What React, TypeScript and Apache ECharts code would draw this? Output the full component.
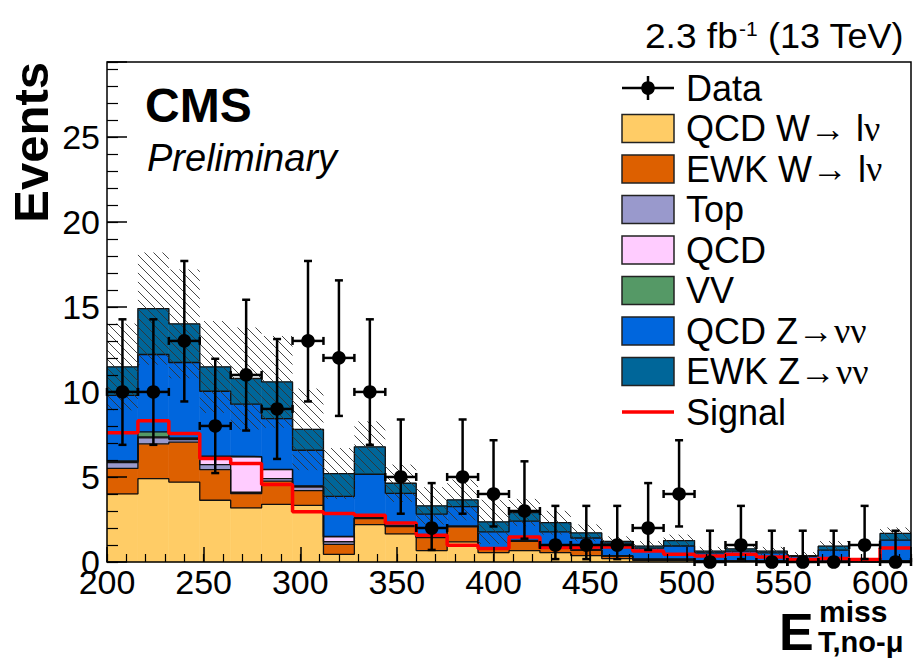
import React, { useEffect, useRef } from "react";
import * as echarts from "echarts";

// ---------- data ----------
const binEdges = [200, 216, 232, 248, 264, 280, 296, 312, 328, 344, 360, 376, 392, 408, 424, 440, 456, 472, 488, 504, 520, 536, 552, 568, 584, 600, 616];
const dataCounts = [10, 10, 13, 8, 11, 9, 13, 12, 10, 5, 2, 5, 4, 3, 1, 1, 1, 2, 4, 0, 1, 0, 0, 0, 1, 0];
const dataLow = [6.89, 6.89, 9.44, 5.23, 7.73, 6.06, 9.44, 8.59, 6.89, 2.84, 0.71, 2.84, 2.09, 1.37, 0.17, 0.17, 0.17, 0.71, 2.09, 0, 0.17, 0, 0, 0, 0.17, 0];
const dataHigh = [14.27, 14.27, 17.7, 11.95, 15.42, 13.11, 17.7, 16.56, 14.27, 8.38, 4.64, 8.38, 7.16, 5.92, 3.3, 3.3, 3.3, 4.64, 7.16, 1.84, 3.3, 1.84, 1.84, 1.84, 3.3, 1.84];

const qcdW = [4.0, 4.9, 4.7, 3.63, 3.18, 3.39, 3.33, 0.45, 2.2, 1.65, 0.67, 1.18, 0.55, 0.67, 0.55, 0.38, 0.2, 0.1, 0.1, 0.05, 0.05, 0.05, 0.02, 0.03, 0.01, 0.05];
const ewkW = [1.5, 2.05, 2.35, 1.8, 0.84, 1.37, 0.87, 0.59, 0.35, 0.43, 0.76, 0.88, 0.2, 0.54, 0.33, 0.31, 0.15, 0.05, 0.05, 0.02, 0.02, 0.02, 0.01, 0.01, 0, 0.02];
const topBkg = [0.35, 0.35, 0.15, 0.3, 0.08, 0.14, 0.2, 0.15, 0.03, 0.03, 0.03, 0.03, 0.05, 0.04, 0.03, 0.02, 0.01, 0.01, 0.01, 0.01, 0.01, 0.01, 0, 0.01, 0, 0.01];
const qcdBkg = [0.05, 0.05, 0.05, 0.45, 2.08, 0.53, 0.05, 0.3, 0.01, 0.01, 0.01, 0.01, 0.01, 0.01, 0.01, 0, 0, 0, 0, 0, 0, 0, 0, 0, 0, 0];
const vvBkg = [0.05, 0.3, 0.05, 0.05, 0.02, 0.02, 0.02, 0.01, 0.01, 0.01, 0.01, 0.01, 0.01, 0.01, 0.01, 0.01, 0.01, 0.01, 0.01, 0, 0, 0, 0, 0, 0, 0];
const qcdZ = [3.85, 4.55, 4.43, 3.81, 3.08, 2.98, 2.1, 2.36, 2.56, 1.91, 1.34, 1.15, 0.95, 1.13, 0.84, 0.69, 0.74, 0.64, 0.77, 0.46, 0.56, 0.46, 0.3, 0.65, 0.05, 1.21];
const ewkZ = [1.67, 2.7, 2.27, 1.43, 1.51, 2.16, 1.23, 1.34, 1.61, 0.59, 0.48, 0.39, 0.59, 0.51, 0.54, 0.3, 0.1, 0.12, 0.32, 0.1, 0.13, 0.1, 0.05, 0.23, 0.02, 0.39];
const signal = [7.6, 8.3, 7.55, 6.08, 5.79, 4.55, 2.95, 2.85, 2.75, 2.3, 1.58, 0.98, 0.8, 1.47, 0.85, 0.88, 0.88, 0.65, 0.45, 0.35, 0.45, 0.3, 0.15, 0.2, 0.15, 0.82];
const bkgUnc = [2.55, 3.3, 3.2, 2.7, 3.0, 2.7, 2.4, 1.5, 1.5, 1.1, 1.1, 1.2, 1.3, 0.8, 0.7, 0.5, 0.3, 0.3, 0.35, 0.25, 0.25, 0.25, 0.2, 0.3, 0.1, 0.35];

const componentNames = ["QCD W{s|→} l{s|ν}", "EWK W{s|→} l{s|ν}", "Top", "QCD", "VV", "QCD Z{s|→νν}", "EWK Z{s|→νν}"];
const componentColors = ["#FFCC66", "#DD6000", "#9999CC", "#FFCCFF", "#559966", "#0066DD", "#006699"];
const componentValues = [qcdW, ewkW, topBkg, qcdBkg, vvBkg, qcdZ, ewkZ];

const FONT = "'Liberation Sans', Arial, Helvetica, sans-serif";
const SERIF = "'Liberation Serif', 'DejaVu Serif', serif";

export default function App() {
  const ref = useRef<HTMLDivElement>(null);

  useEffect(() => {
    const chart = echarts.init(ref.current!, null, { renderer: "svg" });
    const nb = dataCounts.length;
    const xMin = binEdges[0];
    const xMax = binEdges[nb];

    const series: any[] = [];
    let base = new Array(nb).fill(0);
    const levels: number[][] = [];
    componentValues.forEach((vals, k) => {
      const tops = base.map((b, i) => b + vals[i]);
      const color = componentColors[k];
      series.push({
        type: "custom",
        silent: true,
        z: 2,
        data: tops.map((t, i) => [binEdges[i], binEdges[i + 1], base[i], t]),
        encode: { x: [0, 1], y: [2, 3] },
        renderItem: (params: any, api: any) => {
          const a = api.coord([api.value(0), api.value(3)]);
          const b = api.coord([api.value(1), api.value(2)]);
          return {
            type: "rect",
            shape: { x: a[0], y: a[1], width: b[0] - a[0], height: b[1] - a[1] },
            style: { fill: color, stroke: color, lineWidth: 0.6 },
          };
        },
      });
      levels.push(tops);
      base = tops;
    });
    const total = base;

    levels.forEach((tops) => {
      const pts = tops.map((t, i) => [binEdges[i], t]);
      pts.push([binEdges[nb], tops[nb - 1]]);
      series.push({
        type: "line",
        silent: true,
        z: 3,
        step: "end",
        symbol: "none",
        data: pts,
        lineStyle: { color: "#111", width: 1.3 },
      });
    });

    // hatched uncertainty band
    series.push({
      type: "custom",
      silent: true,
      z: 4,
      data: total.map((t, i) => [binEdges[i], binEdges[i + 1], Math.max(0, t - bkgUnc[i]), t + bkgUnc[i]]),
      encode: { x: [0, 1], y: [2, 3] },
      renderItem: (params: any, api: any) => {
        const a = api.coord([api.value(0), api.value(3)]);
        const b = api.coord([api.value(1), api.value(2)]);
        const L = a[0], R = b[0], T = a[1], B = b[1];
        const s = 9;
        const children: any[] = [];
        const kmin = Math.ceil((T - R) / s);
        const kmax = Math.floor((B - L) / s);
        for (let k = kmin; k <= kmax; k++) {
          const c = k * s;
          const xs = Math.max(L, T - c);
          const xe = Math.min(R, B - c);
          if (xe > xs) {
            children.push({
              type: "line",
              shape: { x1: xs, y1: xs + c, x2: xe, y2: xe + c },
              style: { stroke: "#333", lineWidth: 0.9 },
            });
          }
        }
        return { type: "group", children };
      },
    });

    // signal
    const sigPts = signal.map((v, i) => [binEdges[i], v]);
    sigPts.push([binEdges[nb], signal[nb - 1]]);
    series.push({
      type: "line",
      silent: true,
      z: 5,
      step: "end",
      symbol: "none",
      data: sigPts,
      lineStyle: { color: "#FF0000", width: 3.5 },
    });

    // data points
    series.push({
      type: "custom",
      silent: true,
      z: 6,
      clip: false,
      data: dataCounts.map((n, i) => [
        (binEdges[i] + binEdges[i + 1]) / 2, n, dataLow[i], dataHigh[i], binEdges[i], binEdges[i + 1],
      ]),
      encode: { x: [0, 4, 5], y: [1, 2, 3] },
      renderItem: (params: any, api: any) => {
        const xc = api.value(0), n = api.value(1);
        const pc = api.coord([xc, n]);
        const pl = api.coord([xc, api.value(2)]);
        const ph = api.coord([xc, api.value(3)]);
        const pL = api.coord([api.value(4), n]);
        const pR = api.coord([api.value(5), n]);
        const st = { stroke: "#000", lineWidth: 2.5 };
        const cap = 4;
        return {
          type: "group",
          children: [
            { type: "line", shape: { x1: pc[0], y1: ph[1], x2: pc[0], y2: pl[1] }, style: st },
            { type: "line", shape: { x1: pL[0], y1: pc[1], x2: pR[0], y2: pc[1] }, style: st },
            { type: "line", shape: { x1: pc[0] - cap, y1: ph[1], x2: pc[0] + cap, y2: ph[1] }, style: st },
            { type: "line", shape: { x1: pc[0] - cap, y1: pl[1], x2: pc[0] + cap, y2: pl[1] }, style: st },
            { type: "line", shape: { x1: pL[0], y1: pc[1] - cap, x2: pL[0], y2: pc[1] + cap }, style: st },
            { type: "line", shape: { x1: pR[0], y1: pc[1] - cap, x2: pR[0], y2: pc[1] + cap }, style: st },
            { type: "circle", shape: { cx: pc[0], cy: pc[1], r: 6.8 }, style: { fill: "#000" } },
          ],
        };
      },
    });

    // legend (drawn as graphic elements)
    const legX = 622, swW = 52, swH = 28, txtX = 686, row0 = 88, dy = 40.5;
    const graphics: any[] = [];
    const legText = (text: string, y: number) => ({
      type: "text",
      x: txtX,
      y,
      silent: true,
      style: {
        text,
        fontFamily: FONT,
        fontSize: 36,
        fill: "#000",
        verticalAlign: "middle",
        align: "left",
        rich: { s: { fontFamily: SERIF, fontSize: 36, fill: "#000" } },
      },
      z: 100,
    });
    // Data entry
    graphics.push({ type: "line", shape: { x1: legX, y1: row0, x2: legX + swW, y2: row0 }, style: { stroke: "#000", lineWidth: 2.5 }, z: 100, silent: true });
    graphics.push({ type: "line", shape: { x1: legX + swW / 2, y1: row0 - 12, x2: legX + swW / 2, y2: row0 + 12 }, style: { stroke: "#000", lineWidth: 2.5 }, z: 100, silent: true });
    graphics.push({ type: "circle", shape: { cx: legX + swW / 2, cy: row0, r: 6.8 }, style: { fill: "#000" }, z: 100, silent: true });
    graphics.push(legText("Data", row0));
    componentNames.forEach((name, k) => {
      const y = row0 + dy * (k + 1);
      graphics.push({
        type: "rect",
        shape: { x: legX, y: y - swH / 2, width: swW, height: swH },
        style: { fill: componentColors[k], stroke: "#222", lineWidth: 1.5 },
        z: 100,
        silent: true,
      });
      graphics.push(legText(name, y));
    });
    const ySig = row0 + dy * 8;
    graphics.push({ type: "line", shape: { x1: legX, y1: ySig, x2: legX + swW, y2: ySig }, style: { stroke: "#FF0000", lineWidth: 3.5 }, z: 100, silent: true });
    graphics.push(legText("Signal", ySig));

    // other texts
    const txt = (text: string, x: number, y: number, size: number, extra: any = {}, scaleX = 1) => ({
      type: "text",
      x,
      y,
      scaleX,
      silent: true,
      z: 100,
      style: { text, fontFamily: FONT, fontSize: size, fill: "#000", verticalAlign: "middle", align: "left", ...extra },
    });
    graphics.push(txt("CMS", 145, 105, 48, { fontWeight: "bold" }));
    graphics.push(txt("Preliminary", 147, 158, 38, { fontStyle: "italic" }));
    graphics.push({
      ...txt("Events", 31, 62, 49, { fontWeight: "bold", align: "right" }),
      rotation: Math.PI / 2,
    });
    graphics.push(txt("2.3 fb", 645, 36, 35, {}, 1.06));
    graphics.push(txt("-1", 739, 28, 21));
    graphics.push(txt("(13 TeV)", 768, 36, 35, {}, 1.03));
    graphics.push(txt("E", 779, 632, 52, { fontWeight: "bold" }));
    graphics.push(txt("miss", 819, 611, 30, { fontWeight: "bold" }));
    graphics.push(txt("T,no-μ", 818, 642, 29, { fontWeight: "bold" }));

    const axisCommon = {
      type: "value",
      axisLine: { show: false },
      splitLine: { show: false },
      z: 10,
    };

    chart.setOption({
      animation: false,
      grid: {
        left: 107,
        top: 62,
        width: 805,
        height: 500,
        show: true,
        borderColor: "#000",
        borderWidth: 1.5,
        backgroundColor: "transparent",
        z: 10,
      },
      xAxis: [
        {
          ...axisCommon,
          min: xMin,
          max: xMax,
          interval: 50,
          position: "bottom",
          axisTick: { show: true, inside: true, length: 15, lineStyle: { color: "#000", width: 1.5 } },
          axisLabel: {
            show: true,
            color: "#000",
            fontFamily: FONT,
            fontSize: 34,
            margin: 20,
            verticalAlign: "middle",
            formatter: (v: number) => (v % 50 === 0 ? String(v) : ""),
          },
        },
        {
          ...axisCommon,
          min: xMin,
          max: xMax,
          interval: 10,
          position: "bottom",
          axisTick: { show: true, inside: true, length: 8, lineStyle: { color: "#000", width: 1.2 } },
          axisLabel: { show: false },
        },
      ],
      yAxis: [
        {
          ...axisCommon,
          min: 0,
          max: 29.4,
          interval: 5,
          position: "left",
          axisTick: { show: true, inside: true, length: 20, lineStyle: { color: "#000", width: 1.5 } },
          axisLabel: {
            show: true,
            color: "#000",
            fontFamily: FONT,
            fontSize: 34,
            margin: 7,
            formatter: (v: number) => (v % 5 === 0 ? String(v) : ""),
          },
        },
        {
          ...axisCommon,
          min: 0,
          max: 29.4,
          interval: 1,
          position: "left",
          axisTick: { show: true, inside: true, length: 11, lineStyle: { color: "#000", width: 1.2 } },
          axisLabel: { show: false },
        },
      ],
      series,
      graphic: graphics,
    });

    return () => chart.dispose();
  }, []);

  return (
    <div
      ref={ref}
      style={{ position: "fixed", left: 0, top: 0, width: 914, height: 665, background: "#fff" }}
    />
  );
}
